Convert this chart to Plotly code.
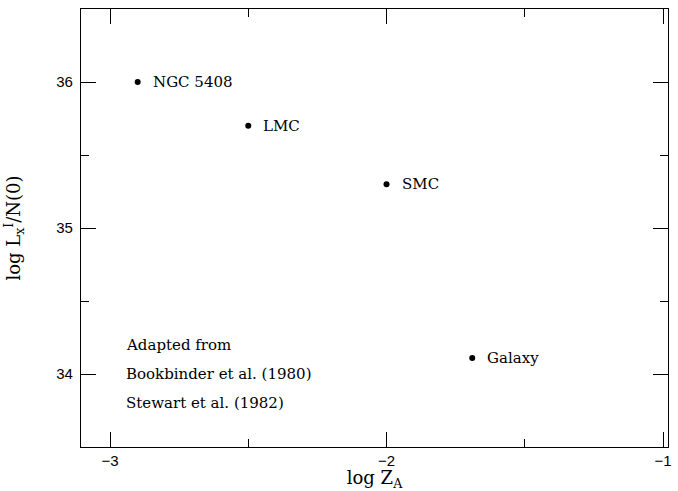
import plotly.graph_objects as go

# Galaxies: log Z_A vs log L_x^I / N(0)
names = ["NGC 5408", "LMC", "SMC", "Galaxy"]
log_z = [-2.90, -2.50, -2.00, -1.69]
log_lx = [36.00, 35.70, 35.30, 34.11]

credit_lines = ["Adapted from", "Bookbinder et al. (1980)", "Stewart et al. (1982)"]
credit_y = [34.2, 34.0, 33.8]

x_ticks = [-3, -2, -1]
y_ticks = [34, 35, 36]

label_font = dict(family="DejaVu Serif", size=15, color="black")
tick_font = dict(family="Liberation Sans", size=15, color="black")
title_font = dict(family="DejaVu Serif", size=18, color="black")

fig = go.Figure()
fig.add_trace(go.Scatter(
    x=log_z, y=log_lx, mode="markers",
    marker=dict(color="black", size=6),
    showlegend=False, hoverinfo="skip",
))

for n, xv, yv in zip(names, log_z, log_lx):
    fig.add_annotation(x=xv, y=yv, text=n, showarrow=False,
                       xanchor="left", yanchor="middle", xshift=13,
                       font=label_font)

for t, yv in zip(credit_lines, credit_y):
    fig.add_annotation(x=-2.95, y=yv, text=t, showarrow=False,
                       xanchor="left", yanchor="middle", font=label_font)

axis_common = dict(
    showline=True, linecolor="black", linewidth=1.2, mirror="allticks",
    ticks="inside", ticklen=15, tickwidth=1.2, tickcolor="black",
    showgrid=False, zeroline=False, tickfont=tick_font, automargin=False,
    minor=dict(ticks="inside", ticklen=8, tickwidth=1.2, tickcolor="black", dtick=0.5),
)

fig.update_xaxes(range=[-3.105, -0.982], tickvals=x_ticks,
                 ticktext=["\u22123", "\u22122", "\u22121"],
                 title=dict(text="log Z<sub>A</sub>", font=title_font, standoff=5),
                 **axis_common)
fig.update_yaxes(range=[33.5, 36.5], tickvals=y_ticks,
                 ticklabelstandoff=4,
                 title=dict(text="log L<sub>x</sub><sup>I</sup>/N(0)", font=title_font, standoff=30),
                 **axis_common)

fig.update_layout(
    width=678, height=491,
    margin=dict(l=81, r=10, t=9, b=44),
    paper_bgcolor="white", plot_bgcolor="white",
)

fig.write_html("out.html")
